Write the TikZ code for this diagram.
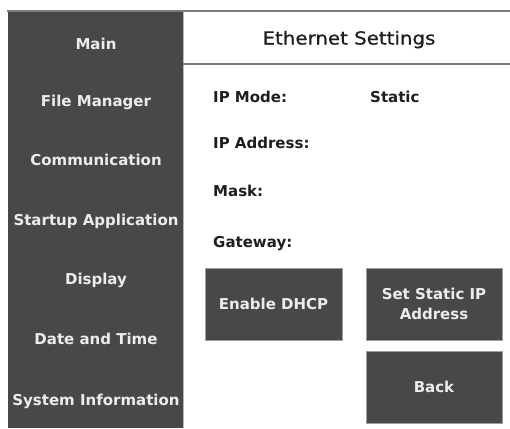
\documentclass[tikz,border=0pt]{standalone}
\usepackage{fontspec}
\setmainfont{DejaVu Sans}
\newfontfamily\headfont[FakeBold=0.7]{DejaVu Sans}
\definecolor{panel}{RGB}{72,72,72}
\definecolor{rulegray}{RGB}{125,125,125}
\definecolor{softwhite}{RGB}{236,236,236}
\definecolor{ink}{RGB}{30,30,30}
\begin{document}
\begin{tikzpicture}[x=1pt,y=-1pt,
  side/.style={text=softwhite, font=\bfseries\fontsize{15}{17}\selectfont, inner sep=0pt, text height=10.9pt, text depth=0pt, anchor=center},
  lab/.style={text=ink, font=\bfseries\fontsize{15}{17}\selectfont, inner sep=0pt, text height=10.9pt, text depth=0pt, anchor=west},
  btn/.style={rectangle, draw=gray!75, line width=1pt, fill=panel, text=softwhite, font=\bfseries\fontsize{15}{20}\selectfont, align=center, inner sep=0pt},
  head/.style={text=ink, font=\headfont\fontsize{18}{20}\selectfont, inner sep=0pt, text height=13.1pt, text depth=0pt, anchor=center}]
\useasboundingbox (0,0) rectangle (510,428);
\fill[white] (0,0) rectangle (510,428);
% sidebar panel
\fill[panel] (8,12) rectangle (183,428);
\draw[gray!55, line width=0.8pt] (183.4,12) -- (183.4,428);
% rules
\draw[rulegray, line width=2pt] (7,11) -- (510,11);
\draw[rulegray, line width=2pt] (183,63.5) -- (510,63.5);
% sidebar items
\node[side] (main) at (96,44) {Main};
\node[side] (files) at (96,101) {File Manager};
\node[side] (comm) at (96,160) {Communication};
\node[side] (startup) at (96,220) {Startup Application};
\node[side] (disp) at (96,279) {Display};
\node[side] (date) at (96,339) {Date and Time};
\node[side] (sysinfo) at (96,400) {System Information};
% header
\node[head] (title) at (349,38) {\scalebox{1.1}[1]{Ethernet Settings}};
% labels
\node[lab] (ipmode) at (213,97) {IP Mode:};
\node[lab] (static) at (370,97) {Static};
\node[lab] (ipaddr) at (213,143) {IP Address:};
\node[lab] (mask) at (213,191) {Mask:};
\node[lab] (gw) at (213,242) {Gateway:};
% buttons
\node[btn, minimum width=137pt, minimum height=72pt] (dhcp) at (273.5,304) {Enable DHCP};
\node[btn, minimum width=136pt, minimum height=72pt] (setstatic) at (434,304) {Set Static IP\\Address};
\node[btn, minimum width=136pt, minimum height=72pt] (back) at (434,387) {Back};
\end{tikzpicture}
\end{document}
